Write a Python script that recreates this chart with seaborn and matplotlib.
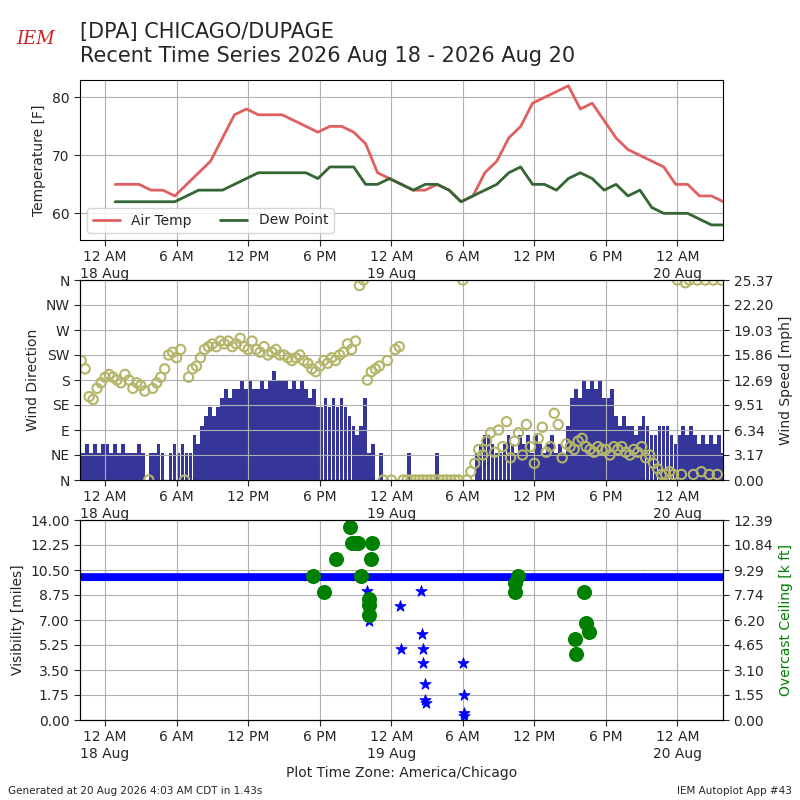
import numpy as np
import pandas as pd
import matplotlib
matplotlib.use("Agg")
import matplotlib.pyplot as plt
import matplotlib.dates as mdates
import seaborn as sns

# --- hourly temperature / dew point (obs at :51 past the hour, 18 Aug 00:51 onward)
temp_f = [65, 65, 65, 64, 64, 63, 65, 67, 69, 73, 77, 78, 77, 77, 77, 76, 75, 74,
          75, 75, 74, 72, 67, 66, 65, 64, 64, 65, 64, 62, 63, 67, 69, 73, 75, 79,
          80, 81, 82, 78, 79, 76, 73, 71, 70, 69, 68, 65, 65, 63, 63, 62]
dewp_f = [62, 62, 62, 62, 62, 62, 63, 64, 64, 64, 65, 66, 67, 67, 67, 67, 67, 66,
          68, 68, 68, 65, 65, 66, 65, 64, 65, 65, 64, 62, 63, 64, 65, 67, 68, 65,
          65, 64, 66, 67, 66, 64, 65, 63, 64, 61, 60, 60, 60, 59, 58, 58]

# --- 20 minute wind data, 17 Aug 22:00 onward (knots, degrees)
wind_kt = [3, 4, 3, 4, 3, 4, 4, 3, 4, 3, 4, 3, 3, 3, 4, 3, 0, 3, 3, 4, 3, 0, 3, 4,
           3, 4, 3, 3, 5, 4, 6, 7, 8, 7, 8, 9, 10, 9, 10, 10, 11, 10, 11, 10, 10,
           11, 10, 11, 12, 11, 11, 11, 10, 11, 10, 11, 10, 9, 10, 8, 8, 9, 8, 9, 8, 9,
           8, 7, 6, 5, 6, 9, 3, 4, 0, 3, 0, 0, 0, 0, 0, 0, 3, 0, 0, 0, 0, 0, 0, 3,
           0, 0, 0, 0, 0, 0, 0, 0, 0, 3, 4, 5, 5, 4, 3, 3, 4, 5, 4, 3, 5, 4, 5, 3,
           5, 4, 3, 4, 5, 3, 4, 3, 6, 9, 10, 9, 11, 10, 11, 10, 11, 9, 9, 10, 7, 6, 7, 6,
           6, 5, 6, 7, 6, 5, 5, 6, 6, 6, 5, 4, 5, 6, 5, 6, 5, 4, 5, 4, 5, 4, 5, 3]
wind_dir = [215, 200, 150, 145, 165, 175, 185, 190, 185, 180, 175, 190, 180, 165, 175,
            170, 160, 0, 165, 175, 185, 200, 225, 230, 220, 235, 0, 185, 200, 205,
            220, 235, 240, 245, 240, 250, 245, 250, 240, 245, 255, 240, 235, 250, 235,
            230, 240, 225, 230, 235, 225, 225, 220, 215, 220, 225, 215, 210, 200, 195,
            205, 215, 210, 220, 215, 225, 230, 245, 235, 250, 350, 360, 180, 195, 200,
            205, 0, 215, 0, 235, 240, 0, 0, 0, 0, 0, 0, 0, 0, 0, 0, 0, 0, 0, 0, 0,
            360, 0, 15, 30, 55, 45, 70, 85, 50, 90, 60, 105, 40, 70, 85,
            45, 100, 60, 30, 75, 95, 50, 60, 120, 100, 40, 65, 60, 55, 70, 75, 60, 55,
            50, 60, 55, 55, 45, 60, 55, 60, 50, 45, 55, 50, 60, 40, 45, 30, 20, 10,
            10, 15, 10, 360, 10, 355, 360, 10, 360, 15, 360, 10, 360, 10, 360]

# --- reduced visibility obs (hours after 18 Aug 00:00, miles); otherwise 10 mi
low_vis_hr = [22.0, 22.1, 22.1, 24.7, 24.8, 26.5, 26.6, 26.7, 26.7, 26.8, 26.8, 26.9,
              30.0, 30.1, 30.1, 30.1]
low_vis_mi = [9.0, 7.9, 6.9, 8.0, 4.95, 9.0, 6.0, 4.95, 3.97, 2.5, 1.4, 1.17,
              3.97, 1.75, 0.47, 0.28]

# --- overcast ceiling obs (hours after 18 Aug 00:00, k ft)
ceil_hr = [17.4, 18.4, 19.4, 20.5, 20.7, 21.0, 21.2, 21.5, 22.1, 22.1, 22.1, 22.3, 22.4,
           34.4, 34.4, 34.6, 39.4, 39.5, 40.2, 40.3, 40.6]
ceil_kft = [8.94, 7.95, 9.95, 11.98, 10.94, 10.94, 10.94, 8.94, 7.48, 7.15, 6.5, 9.95,
            10.94, 7.95, 8.47, 8.94, 5.0, 4.07, 7.95, 5.99, 5.47]

base = pd.Timestamp("2026-08-18 00:00")
t_temp = base + pd.to_timedelta(np.arange(len(temp_f)) + 0.85, unit="h")
t_wind = pd.Timestamp("2026-08-17 22:00") + pd.to_timedelta(np.arange(len(wind_kt)) * 20, unit="min")
wind_mph = np.array(wind_kt) * 1.15078

sns.set_style("whitegrid", {"grid.color": "#b0b0b0", "axes.edgecolor": "black"})
plt.rcParams["font.family"] = ["DejaVu Sans"]

fig = plt.figure(figsize=(8, 8), dpi=100)
ax1 = fig.add_axes([0.1, 0.7, 0.804, 0.2])
ax2 = fig.add_axes([0.1, 0.4, 0.804, 0.25])
ax3 = fig.add_axes([0.1, 0.1, 0.804, 0.25])

xmin = pd.Timestamp("2026-08-17 21:54")
xmax = pd.Timestamp("2026-08-20 03:50")

# temperature panel
tdf = pd.DataFrame({"t": t_temp, "Air Temp": temp_f, "Dew Point": dewp_f})
sns.lineplot(data=tdf, x="t", y="Air Temp", ax=ax1, color="#e06060", lw=2, label="Air Temp")
sns.lineplot(data=tdf, x="t", y="Dew Point", ax=ax1, color="#336633", lw=2, label="Dew Point")
ax1.set_ylim(55.4, 83)
ax1.set_yticks([60, 70, 80])
ax1.set_ylabel("Temperature [F]")
ax1.set_xlabel("")
ax1.legend(loc="lower left", ncol=2, fontsize=10)

# wind panel: speed bars on base axes (right side), direction circles on twin
ax2.bar(t_wind, wind_mph, width=pd.Timedelta(minutes=19), align="edge", color="#35359a",
        linewidth=0)
ax2.set_axisbelow(False)
ax2.set_ylim(0, 25.37)
ax2.set_yticks(np.linspace(0, 25.37, 9))
ax2.set_yticklabels([f"{v:.2f}" for v in np.linspace(0, 25.37, 9)])
ax2.yaxis.tick_right()
ax2.yaxis.set_label_position("right")
ax2.set_ylabel("Wind Speed [mph]")
ax2d = ax2.twinx()
ax2d.grid(False)
sns.scatterplot(x=t_wind, y=wind_dir, ax=ax2d, marker="o", s=45, facecolors="none",
                edgecolor="#b5b56a", linewidth=1.5)
ax2d.set_ylim(0, 360)
ax2d.set_yticks(range(0, 361, 45))
ax2d.set_yticklabels(["N", "NE", "E", "SE", "S", "SW", "W", "NW", "N"])
ax2d.yaxis.tick_left()
ax2d.yaxis.set_label_position("left")
ax2d.set_ylabel("Wind Direction")

# visibility / ceiling panel
vis_t = pd.date_range(xmin, xmax, freq="5min")
ax3.plot(vis_t, np.full(len(vis_t), 10.0), ls="", marker="*", ms=6, color="blue")
sns.scatterplot(x=base + pd.to_timedelta(low_vis_hr, unit="h"), y=low_vis_mi, ax=ax3,
                marker="*", s=70, color="blue", edgecolor="blue")
ax3.set_ylim(0, 14)
ax3.set_yticks(np.arange(0, 14.01, 1.75))
ax3.set_yticklabels([f"{v:.2f}" for v in np.arange(0, 14.01, 1.75)])
ax3.set_ylabel("Visibility [miles]")
ax3.set_xlabel("Plot Time Zone: America/Chicago")
ax3c = ax3.twinx()
ax3c.grid(False)
sns.scatterplot(x=base + pd.to_timedelta(ceil_hr, unit="h"), y=ceil_kft, ax=ax3c,
                s=100, color="green", edgecolor="green")
ax3c.set_ylim(0, 12.39)
ax3c.set_yticks(np.linspace(0, 12.39, 9))
ax3c.set_yticklabels([f"{v:.2f}" for v in np.linspace(0, 12.39, 9)])
ax3c.set_ylabel("Overcast Ceiling [k ft]", color="green")


def fmt(x, pos=None):
    d = mdates.num2date(x)
    s = d.strftime("%I %p").lstrip("0")
    if d.hour == 0:
        s += "\n" + d.strftime("%d %b")
    return s


ticks = pd.date_range("2026-08-18 00:00", "2026-08-20 00:00", freq="6h")
for a in (ax1, ax2, ax3):
    a.set_xlim(xmin, xmax)
    a.set_xticks(ticks)
    a.xaxis.set_major_formatter(plt.FuncFormatter(fmt))
    a.tick_params(axis="both", direction="out", length=4, bottom=True, left=True)
    for sp in a.spines.values():
        sp.set_color("black")
for a in (ax2d, ax3c):
    a.set_xlim(xmin, xmax)
    a.tick_params(direction="out", length=4)
ax2.tick_params(axis="y", right=True, left=False, labelright=True, labelleft=False)
ax2d.tick_params(axis="y", left=True, right=False, labelleft=True, labelright=False)
ax3c.tick_params(axis="y", right=True)

fig.text(0.1, 0.96, "[DPA] CHICAGO/DUPAGE", fontsize=15, va="center")
fig.text(0.1, 0.93, "Recent Time Series 2026 Aug 18 - 2026 Aug 20", fontsize=15, va="center")
fig.text(0.02, 0.945, "IEM", fontsize=13, color="#cc2222", style="italic", family="DejaVu Serif")
fig.text(0.01, 0.008, "Generated at 20 Aug 2026 4:03 AM CDT in 1.43s", fontsize=7.5)
fig.text(0.99, 0.008, "IEM Autoplot App #43", fontsize=7.5, ha="right")

fig.savefig("out.png", dpi=100)
